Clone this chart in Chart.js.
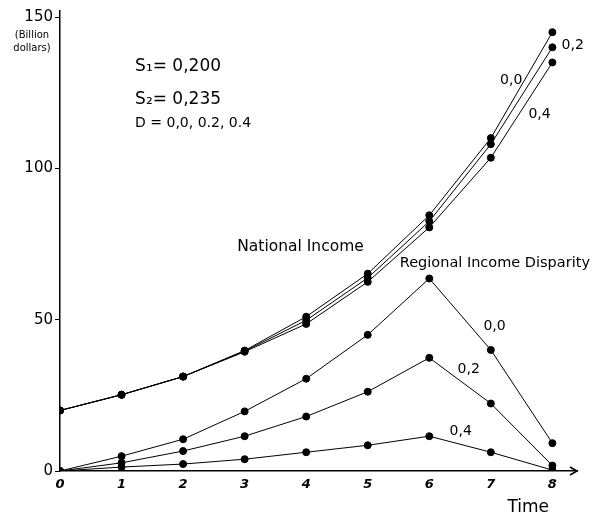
<!DOCTYPE html>
<html lang="en">
<head>
  <meta charset="UTF-8"/>
  <title>National Income and Regional Income Disparity</title>
  <script src="https://cdn.jsdelivr.net/npm/chart.js@4.4.1/dist/chart.umd.min.js"></script>
  <style>
    html, body { margin: 0; padding: 0; background: #fff; }
    #wrap { width: 604px; height: 516px; }
  </style>
</head>
<body>
  <div id="wrap"><canvas id="chart" width="604" height="516"></canvas></div>
  <script>
    // time periods
    const times = [0, 1, 2, 3, 4, 5, 6, 7, 8];
    const xTicks = [0, 1, 2, 3, 4, 5, 6, 7, 8];
    const yTicks = [0, 50, 100, 150];

    // national income (billion dollars), D = 0.0 / 0.2 / 0.4
    const income00 = [20, 25.2, 31.2, 39.8, 51, 65.2, 84.5, 110, 145];
    const income02 = [20, 25.2, 31.2, 39.6, 49.8, 63.8, 82.5, 108, 140];
    const income04 = [20, 25.2, 31.2, 39.4, 48.6, 62.5, 80.5, 103.5, 135];

    // regional income disparity, D = 0.0 / 0.2 / 0.4
    const disparity00 = [0, 4.9, 10.5, 19.7, 30.5, 45, 63.6, 40, 9.2];
    const disparity02 = [0, 2.7, 6.6, 11.5, 18, 26.2, 37.4, 22.3, 1.8];
    const disparity04 = [0, 1.3, 2.3, 3.9, 6.2, 8.5, 11.5, 6.2, 0.3];

    // text notes placed in data units: [text, x, y, font]
    const notes = [
      ['S\u2081= 0,200', 1.22, 133.6, '17px "DejaVu Sans"'],
      ['S\u2082= 0,235', 1.22, 122.6, '17px "DejaVu Sans"'],
      ['D = 0,0, 0.2, 0.4', 1.22, 115, '14px "DejaVu Sans"'],
      ['National Income', 2.88, 74, '15.5px "DejaVu Sans"'],
      ['Regional Income Disparity', 5.52, 68.5, '14.5px "DejaVu Sans"'],
      ['0,0', 7.15, 129, '14px "DejaVu Sans"'],
      ['0,2', 8.15, 140.5, '14px "DejaVu Sans"'],
      ['0,4', 7.61, 118, '14px "DejaVu Sans"'],
      ['0,0', 6.88, 47.8, '14px "DejaVu Sans"'],
      ['0,2', 6.46, 33.7, '14px "DejaVu Sans"'],
      ['0,4', 6.33, 13, '14px "DejaVu Sans"'],
      ['Time', 7.27, -12, '17px "DejaVu Sans"']
    ];

    const toPts = arr => times.map((t, i) => ({ x: t, y: arr[i] }));
    const line = data => ({
      data: toPts(data),
      borderColor: '#000',
      backgroundColor: '#000',
      borderWidth: 1,
      pointRadius: 3.5,
      pointHoverRadius: 3.5,
      tension: 0
    });

    const notesPlugin = {
      id: 'notes',
      afterDraw(chart) {
        const ctx = chart.ctx;
        const xs = chart.scales.x, ys = chart.scales.y;
        ctx.save();
        ctx.fillStyle = '#000';
        ctx.textAlign = 'left';
        ctx.textBaseline = 'middle';
        notes.forEach(([t, x, y, f]) => {
          ctx.font = f;
          ctx.fillText(t, xs.getPixelForValue(x), ys.getPixelForValue(y));
        });
        // unit label
        ctx.textAlign = 'center';
        ctx.font = '10px "DejaVu Sans"';
        const ux = xs.getPixelForValue(0) - 28;
        ctx.fillText('(Billion', ux, ys.getPixelForValue(143.8));
        ctx.fillText('dollars)', ux, ys.getPixelForValue(139.6));
        // arrow at end of time axis
        const ax = chart.chartArea.right, ay = ys.getPixelForValue(0);
        ctx.strokeStyle = '#000';
        ctx.lineWidth = 1.5;
        ctx.beginPath();
        ctx.moveTo(ax - 7, ay - 4);
        ctx.lineTo(ax, ay);
        ctx.lineTo(ax - 7, ay + 4);
        ctx.stroke();
        ctx.restore();
      }
    };

    new Chart(document.getElementById('chart'), {
      type: 'line',
      data: {
        datasets: [
          line(income00), line(income02), line(income04),
          line(disparity00), line(disparity02), line(disparity04)
        ]
      },
      options: {
        responsive: false,
        animation: false,
        layout: { padding: { top: 7, right: 27, left: 0, bottom: 0 } },
        plugins: { legend: { display: false }, tooltip: { enabled: false } },
        scales: {
          x: {
            type: 'linear',
            min: 0,
            max: 8.4,
            afterBuildTicks: s => { s.ticks = xTicks.map(v => ({ value: v })); },
            afterFit: s => { s.height = 45; },
            grid: { drawOnChartArea: false, drawTicks: false },
            border: { color: '#000', width: 1.5 },
            ticks: {
              color: '#000',
              padding: 6,
              font: { family: 'DejaVu Sans', size: 13, style: 'italic', weight: 'bold' }
            }
          },
          y: {
            min: 0,
            max: 152,
            afterBuildTicks: s => { s.ticks = yTicks.map(v => ({ value: v })); },
            afterFit: s => { s.width = 60; },
            grid: { drawOnChartArea: false, tickLength: 5, color: '#000' },
            border: { color: '#000', width: 1.5 },
            ticks: {
              color: '#000',
              padding: 2,
              font: { family: 'DejaVu Sans', size: 15 }
            }
          }
        }
      },
      plugins: [notesPlugin]
    });
  </script>
</body>
</html>
